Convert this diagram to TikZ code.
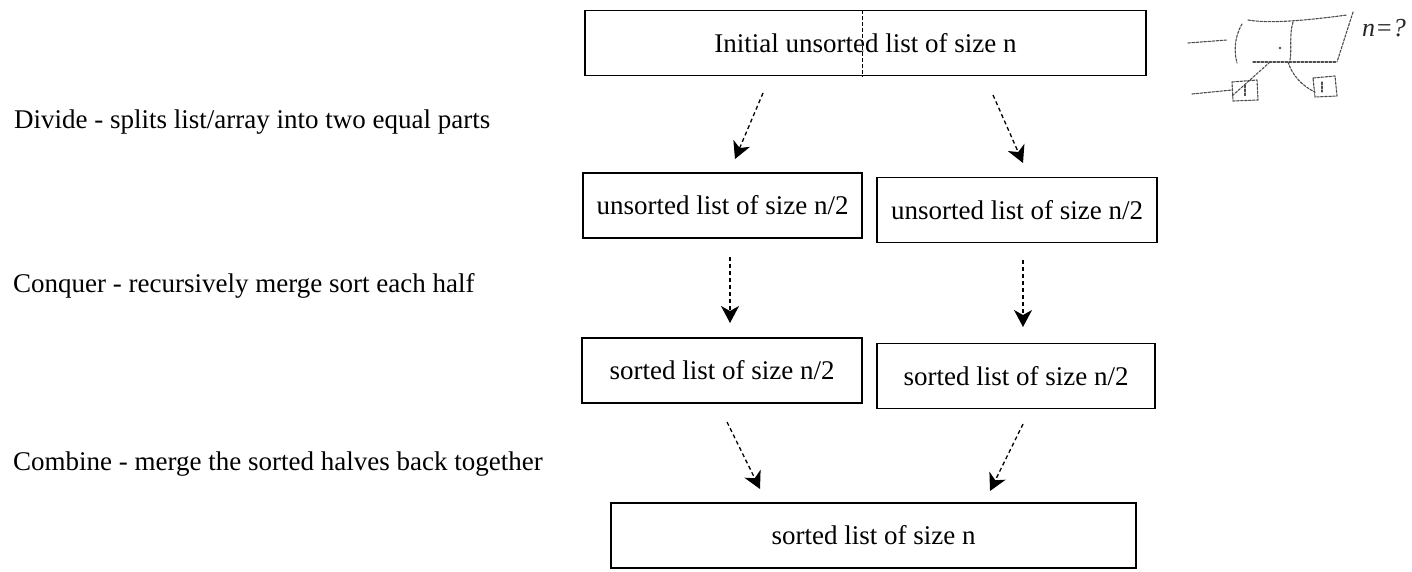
\documentclass[tikz,border=0pt]{standalone}
\usepackage{fontspec}
\setmainfont{Liberation Serif}
\usetikzlibrary{arrows.meta}

\tikzset{
  listbox/.style={draw=black, line width=1.3pt, minimum height=65pt,
    inner sep=0pt, font=\fontsize{27}{32}\selectfont},
  steplabel/.style={anchor=base west, inner sep=0pt, font=\fontsize{27}{32}\selectfont},
  flow/.style={draw=black, line width=1.3pt, dash pattern=on 4pt off 3pt,
    -{Stealth[length=17pt, width=18pt, inset=5pt]}},
  splitline/.style={draw=black, line width=1pt, dash pattern=on 4pt off 2pt},
  pencil/.style={draw=black!70, line width=1.1pt, line cap=round, line join=round,
    dash pattern=on 2.5pt off 1.5pt},
}

\begin{document}
\begin{tikzpicture}[x=1pt, y=-1pt]
  % page area
  \fill[white] (0,0) rectangle (1412,571);
  \useasboundingbox (0,0) rectangle (1412,571);

  % step descriptions
  \node[steplabel] (ldivide)  at (14,128) {Divide - splits list/array into two equal parts};
  \node[steplabel] (lconquer) at (13,292) {Conquer - recursively merge sort each half};
  \node[steplabel] (lcombine) at (13,470) {Combine - merge the sorted halves back together};

  % lists
  \node[listbox, minimum width=561pt] (whole) at (865.5,43) {Initial unsorted list of size n};
  \node[listbox, minimum width=279pt] (uleft)  at (722.5,205.5) {unsorted list of size n/2};
  \node[listbox, minimum width=280pt] (uright) at (1017,210) {unsorted list of size n/2};
  \node[listbox, minimum width=280pt] (sleft)  at (722,370.5) {sorted list of size n/2};
  \node[listbox, minimum width=278pt] (sright) at (1016,376) {sorted list of size n/2};
  \node[listbox, minimum width=525pt] (merged) at (873.5,535.5) {sorted list of size n};

  % split mark through the initial list
  \draw[splitline] (862,0 |- whole.north) -- (862,0 |- whole.south);

  % arrow end points
  \coordinate (d1s) at (763,93);   \coordinate (d1e) at (735,159);
  \coordinate (d2s) at (993,95);   \coordinate (d2e) at (1023,163);
  \coordinate (c1s) at (730,257);  \coordinate (c1e) at (730,323);
  \coordinate (c2s) at (1023,260); \coordinate (c2e) at (1023,327);
  \coordinate (m1s) at (727,422);  \coordinate (m1e) at (760,489);
  \coordinate (m2s) at (1023,424); \coordinate (m2e) at (990,491);

  \draw[flow] (d1s) -- (d1e);
  \draw[flow] (d2s) -- (d2e);
  \draw[flow] (c1s) -- (c1e);
  \draw[flow] (c2s) -- (c2e);
  \draw[flow] (m1s) -- (m1e);
  \draw[flow] (m2s) -- (m2e);

  % pencil sketch in the corner
  \draw[pencil] (1188,43) -- (1227,40);
  \draw[pencil] (1242,24) .. controls (1234,38) and (1234,52) .. (1237,63);
  \draw[pencil] (1248,20) .. controls (1270,24) and (1310,20) .. (1347,15);
  \draw[pencil] (1353,12) -- (1337,62);
  \draw[pencil] (1253,62) -- (1337,62);
  \draw[pencil] (1293,22) .. controls (1289,35) and (1292,48) .. (1290,60);
  \fill[black!70] (1280,48) circle (1.4pt);
  \draw[pencil] (1270,62) -- (1232,96);
  \draw[pencil] (1288,62) .. controls (1292,75) and (1302,86) .. (1315,92);
  \draw[pencil] (1192,94) -- (1232,90);
  \draw[pencil] (1232,82) -- (1257,80) -- (1258,100) -- (1233,101) -- cycle;
  \draw[pencil] (1245,85) -- (1245,96);
  \draw[pencil] (1313,78) -- (1335,76) -- (1337,96) -- (1315,97) -- cycle;
  \draw[pencil] (1322,82) -- (1322,92);
  \node[text=black!85, font=\itshape\fontsize{26}{28}\selectfont, inner sep=0pt]
    (nq) at (1384,28) {n=?};
\end{tikzpicture}
\end{document}
